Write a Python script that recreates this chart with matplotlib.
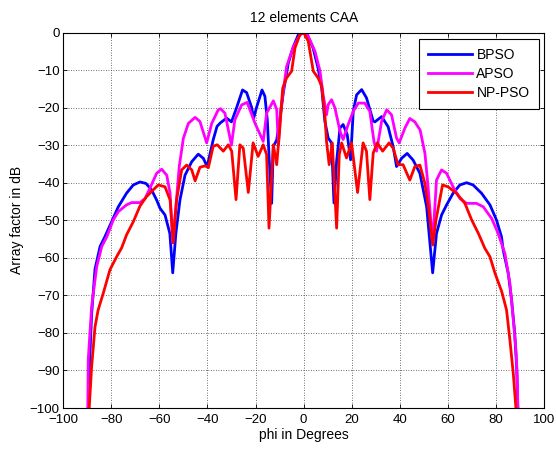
import matplotlib.pyplot as plt
import numpy as np

plt.rcParams['font.family'] = ['Liberation Sans', 'DejaVu Sans']

# BPSO (blue)
bpso_phi = [-89.5, -89.1, -88.1, -86.7, -84.6, -82.6, -79.8, -77.0, -73.6, -70.8,
            -68.0, -65.5, -63.2, -61.1, -59.7, -57.6, -55.6, -54.4, -53.1, -51.4,
            -49.3, -46.5, -43.8, -41.7, -40.1, -37.6, -36.0, -34.5, -32.0, -30.0,
            -27.9, -25.4, -23.7, -21.6, -20.8, -19.6, -17.3, -16.1, -15.1, -14.3,
            -13.3, -12.6, -11.2, -9.9, -8.5, -6.4, -4.3, -2.3, 0.0,
            1.5, 3.9, 6.0, 7.5, 8.8, 10.2, 11.6, 12.6, 13.7, 15.1, 16.4, 18.1,
            19.5, 20.6, 22.0, 24.1, 26.1, 28.9, 29.6, 32.4, 35.1, 37.2, 38.6,
            40.7, 43.0, 45.5, 48.3, 51.1, 53.6, 55.2, 57.3, 59.4, 62.1, 64.9,
            67.7, 70.4, 73.9, 77.4, 80.1, 82.2, 82.9, 85.0, 86.4, 87.7, 88.5, 89.0]
bpso_db = [-100, -90, -75, -63, -57, -54.4, -50.4, -46.4, -42.8, -40.6,
           -39.8, -40.2, -41.9, -44.6, -46.8, -48.6, -53.5, -64, -53.5, -44.6,
           -38, -34.4, -32.4, -33.5, -35.7, -28.6, -25, -24, -22.8, -23.8,
           -20.1, -15.3, -16, -20, -22.9, -20, -15.3, -17, -23.3, -34,
           -45.5, -30.4, -28.6, -23.3, -16.2, -8.2, -3.8, -0.7, 0,
           -0.6, -4.1, -9.5, -14.8, -23.6, -28.1, -29.4, -45.4, -34.3, -25.4, -24.5, -27.2,
           -33.9, -21, -16.6, -15.2, -17.4, -23.6, -23.8, -22.4, -25.1, -30.4, -35.7,
           -33.5, -32.2, -34, -37.5, -46.4, -64, -53.5, -48.6, -45.9, -42.8, -40.6,
           -40, -40.6, -42.8, -45.9, -49.9, -54.4, -57.9, -64.1, -71.2, -80.1, -89, -100]

# APSO (magenta)
apso_phi = [-89.7, -89.5, -88.1, -86.0, -83.9, -81.8, -79.1, -77.0, -73.6, -71.5,
            -68.0, -65.9, -63.9, -61.1, -59.0, -56.9, -55.5, -54.4, -53.1, -51.7,
            -50.0, -47.9, -45.1, -43.1, -40.3, -38.2, -35.5, -34.5, -32.7, -30.0,
            -28.6, -25.8, -23.5, -20.2, -16.8, -15.4, -12.6, -11.2, -10.5, -9.5,
            -7.1, -4.3, -1.4, 0.0,
            1.2, 4.7, 6.8, 8.1, 9.5, 10.2, 11.6, 13.0, 15.1, 16.4, 18.5, 20.6,
            22.7, 25.4, 27.5, 29.2, 30.3, 32.4, 34.5, 36.5, 38.6, 39.7, 42.1,
            44.1, 46.2, 48.4, 50.4, 51.7, 53.6, 55.2, 57.3, 59.4, 62.1, 64.9,
            67.7, 71.8, 74.6, 78.1, 80.8, 83.6, 85.7, 87.0, 88.2, 88.7, 89.0]
apso_db = [-100, -87, -73, -62.4, -57, -54.4, -49.9, -47.7, -45.9, -45.3,
           -45.3, -44.2, -41.5, -37.5, -36.4, -38, -42.8, -56, -46.4, -35.7,
           -28.2, -24.2, -22.6, -23.7, -29.4, -24.2, -20.6, -20.3, -21.5, -30,
           -23.3, -19.3, -18.6, -24.2, -29, -21.5, -18.2, -20.5, -30, -20.5,
           -9.1, -3.8, -0.5, 0,
           0, -5, -10.3, -16.6, -21.9, -19.2, -17.9, -20.1, -26.3, -28.5, -24.5, -21,
           -18.8, -18.8, -21, -29, -31.6, -23.6, -20.6, -21.9, -28.1, -29.4, -25.4,
           -22.9, -23.8, -26, -32.2, -41.1, -56, -39.3, -36.6, -37.5, -41.1, -44.2,
           -45.5, -45.5, -46.4, -49.5, -53.5, -58.8, -66.8, -75.7, -84.6, -90.8, -100]

# NP-PSO (red)
nppso_phi = [-89.1, -88.1, -86.7, -85.4, -83.3, -80.5, -77.7, -75.6, -73.6, -70.8,
             -68.0, -65.3, -62.5, -60.4, -57.6, -55.5, -54.2, -52.8, -50.7, -48.6,
             -46.5, -45.1, -43.1, -41.0, -39.6, -37.6, -35.9, -33.4, -31.3, -29.9,
             -28.1, -26.5, -25.1, -23.0, -21.0, -18.9, -16.8, -15.4, -14.4, -12.6,
             -11.2, -9.9, -8.7, -7.1, -5.0, -3.6, -1.6, 0.0,
             1.9, 4.0, 6.0, 7.5, 8.8, 9.5, 10.6, 11.9, 13.7, 14.8, 15.8, 17.8,
             19.9, 22.4, 24.7, 26.1, 27.5, 28.9, 30.6, 32.8, 35.5, 37.2, 39.2,
             41.3, 44.1, 46.2, 48.3, 50.4, 52.2, 53.6, 55.0, 57.7, 60.0, 63.5,
             67.0, 69.8, 72.6, 75.3, 77.4, 79.5, 82.3, 84.3, 85.7, 87.1, 88.2]
nppso_db = [-100, -89, -78.4, -73.9, -69.5, -63.2, -59.7, -57.3, -53.9, -50.4,
            -46.2, -43.7, -41.9, -40.6, -41.1, -44.6, -56, -44.6, -36.6, -35.3,
            -36.6, -39.5, -35.9, -35.5, -36, -30.3, -29.9, -31.6, -29.9, -31.6,
            -44.5, -29.9, -30.8, -42.6, -29.4, -33, -29.9, -32.5, -52.1, -29.9,
            -35.2, -25.4, -14.8, -12.1, -10.3, -4.1, -0.6, 0,
            -2.3, -10.3, -12.1, -14.3, -21.9, -29, -35.2, -29.4, -52.1, -32.5, -29.4, -33.4,
            -29.4, -42.6, -29.4, -31.6, -44.5, -32.1, -29.4, -31.6, -29.4, -30.8, -35.2,
            -35.2, -39.3, -35.7, -35.3, -40.2, -48.2, -56.6, -49.9, -40.6, -41.1, -42.8,
            -45.5, -49.9, -53.5, -57.5, -59.7, -64.1, -69, -73.9, -81.9, -90.8, -100]

fig = plt.figure(figsize=(5.56, 4.49), dpi=100)
ax = fig.add_axes([0.1133, 0.0913, 0.8657, 0.8363])

ax.plot(bpso_phi, bpso_db, color='#0000ff', lw=2, label='BPSO')
ax.plot(apso_phi, apso_db, color='#ff00ff', lw=2, label='APSO')
ax.plot(nppso_phi, nppso_db, color='#ff0000', lw=2, label='NP-PSO')

ax.set_xlim(-100, 100)
ax.set_ylim(-100, 0)
ax.set_xticks(np.arange(-100, 101, 20))
ax.set_yticks(np.arange(-100, 1, 10))
ax.tick_params(direction='in', top=True, right=True, length=3, labelsize=9.5, width=0.6)
ax.tick_params(axis='x', pad=4)
ax.tick_params(axis='y', pad=2.5)
ax.grid(True, color='0.25', linestyle=(0, (1, 2)), linewidth=0.6)
for s in ax.spines.values():
    s.set_linewidth(0.8)

ax.set_xlabel('phi in Degrees', fontsize=10, labelpad=2)
ax.set_ylabel('Array factor in dB', fontsize=10, labelpad=4)
ax.set_title('12 elements CAA', fontsize=10, pad=7.5)

leg = ax.legend(loc='upper right', bbox_to_anchor=(0.988, 0.983), borderaxespad=0,
                fontsize=10, handlelength=3.1, handletextpad=0.35, labelspacing=0.35,
                borderpad=0.65, fancybox=False, framealpha=1, edgecolor='black')
leg.get_frame().set_linewidth(0.8)

fig.savefig('out.png', dpi=100)
